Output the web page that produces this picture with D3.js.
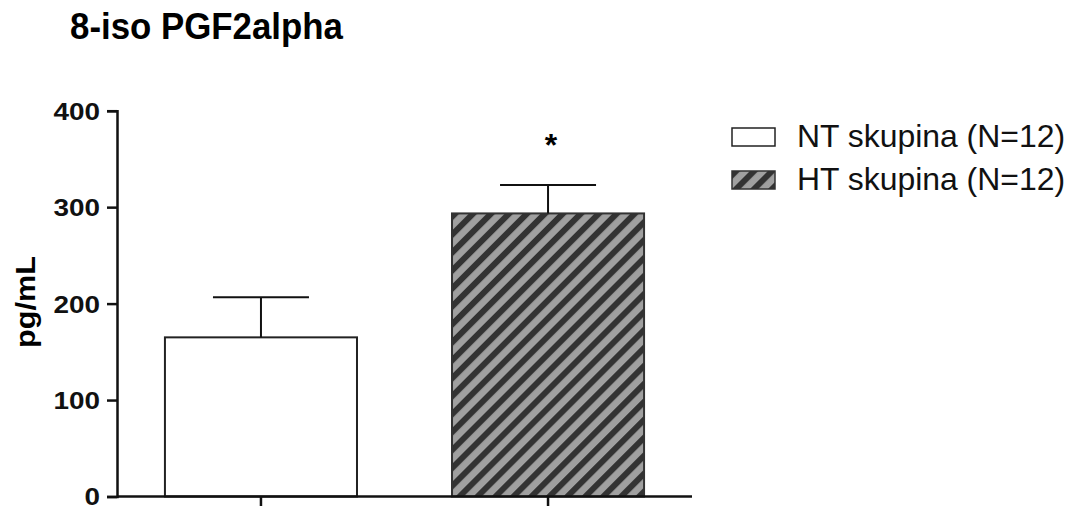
<!DOCTYPE html>
<html>
<head>
<meta charset="utf-8">
<script src="https://cdn.jsdelivr.net/npm/d3@7"></script>
<style>
  body { margin: 0; background: #fff; }
  text { font-family: "Liberation Sans", Arial, sans-serif; }
</style>
</head>
<body>
<svg width="1069" height="506"></svg>
<script>
// data
const groups = ["NT skupina (N=12)", "HT skupina (N=12)"]
const means = [165, 293.5]
const sem = [41.5, 29.5]
const marks = ["", "*"]
const yTicks = [0, 100, 200, 300, 400]
const title = "8-iso PGF2alpha"
const yLabel = "pg/mL"

const svg = d3.select("svg")

const defs = svg.append("defs")
const hatch = defs.append("pattern")
    .attr("id", "hatch")
    .attr("patternUnits", "userSpaceOnUse")
    .attr("width", 12.7)
    .attr("height", 12.7)
    .attr("patternTransform", "rotate(45)")
hatch.append("rect").attr("width", 12.7).attr("height", 12.7).attr("fill", "#a0a0a0")
hatch.append("rect").attr("width", 6).attr("height", 12.7).attr("fill", "#333")

const x = d3.scaleBand()
    .domain(groups)
    .range([117, 692])
    .paddingInner(0.331)
    .paddingOuter(0.167)

const y = d3.scaleLinear()
    .domain([0, 400])
    .range([496.5, 110.7])

const fills = ["#fff", "url(#hatch)"]
const strokes = ["#222", "#333"]

// bars
svg.append("g")
    .selectAll("rect")
    .data(groups)
    .join("rect")
    .attr("x", d => x(d))
    .attr("y", (d, i) => y(means[i]))
    .attr("width", x.bandwidth())
    .attr("height", (d, i) => y(0) - y(means[i]))
    .attr("fill", (d, i) => fills[i])
    .attr("stroke", (d, i) => strokes[i])
    .attr("stroke-width", 2)

// error bars (upper only)
const err = svg.append("g").attr("stroke", "#111").attr("stroke-width", 2)
groups.forEach((g, i) => {
    const cx = x(g) + x.bandwidth() / 2
    err.append("line")
        .attr("x1", cx).attr("x2", cx)
        .attr("y1", y(means[i])).attr("y2", y(means[i] + sem[i]))
    err.append("line")
        .attr("x1", cx - 48).attr("x2", cx + 48)
        .attr("y1", y(means[i] + sem[i])).attr("y2", y(means[i] + sem[i]))
    if (marks[i])
        svg.append("text")
            .attr("x", cx + 3)
            .attr("y", y(means[i] + sem[i]) - 29)
            .attr("text-anchor", "middle")
            .attr("font-weight", "bold")
            .attr("font-size", 32)
            .text(marks[i])
})

// axes
const yAxis = svg.append("g")
    .attr("transform", "translate(117,0)")
    .call(d3.axisLeft(y).tickValues(yTicks).tickSize(10).tickPadding(7))
yAxis.selectAll("line, path").attr("stroke", "#111").attr("stroke-width", 2.5)
yAxis.selectAll("text")
    .attr("font-size", 24)
    .attr("font-weight", "bold")
    .attr("fill", "#111")
    .attr("dy", "0.35em")
    .attr("textLength", d => String(d).length * 15.5)
    .attr("lengthAdjust", "spacingAndGlyphs")

const xAxis = svg.append("g")
    .attr("transform", "translate(0,496.5)")
    .call(d3.axisBottom(x).tickSize(10).tickFormat(""))
xAxis.selectAll("line, path").attr("stroke", "#111").attr("stroke-width", 2.5)
xAxis.select("path").attr("d", "M117,0H692")

// title and y label
svg.append("text")
    .attr("x", 70).attr("y", 39)
    .attr("font-size", 37)
    .attr("font-weight", "bold")
    .attr("textLength", 273)
    .attr("lengthAdjust", "spacingAndGlyphs")
    .text(title)

svg.append("text")
    .attr("transform", "translate(35,302) rotate(-90)")
    .attr("text-anchor", "middle")
    .attr("font-size", 27)
    .attr("font-weight", "bold")
    .attr("textLength", 92)
    .attr("lengthAdjust", "spacingAndGlyphs")
    .text(yLabel)

// legend
const legend = svg.append("g")
    .selectAll("g")
    .data(groups)
    .join("g")
    .attr("transform", (d, i) => `translate(732,${128 + i * 43})`)
legend.append("rect")
    .attr("width", 43).attr("height", 18)
    .attr("fill", (d, i) => fills[i])
    .attr("stroke", (d, i) => strokes[i])
    .attr("stroke-width", 1.5)
legend.append("text")
    .attr("x", 65).attr("y", 19)
    .attr("font-size", 32)
    .attr("fill", "#111")
    .attr("textLength", 268)
    .attr("lengthAdjust", "spacingAndGlyphs")
    .text(d => d)
</script>
</body>
</html>
